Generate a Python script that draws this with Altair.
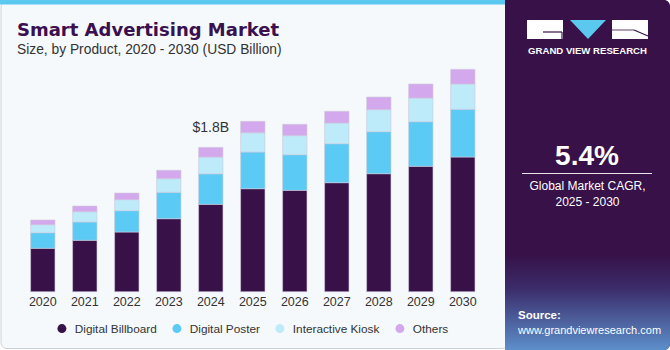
import altair as alt
import pandas as pd

years = [str(y) for y in range(2020, 2031)]
products = ["Digital Billboard", "Digital Poster", "Interactive Kiosk", "Others"]
billboard = [0.541, 0.641, 0.744, 0.910, 1.089, 1.284, 1.264, 1.359, 1.471, 1.563, 1.679]
poster = [0.194, 0.228, 0.266, 0.329, 0.381, 0.457, 0.444, 0.486, 0.524, 0.556, 0.595]
kiosk = [0.100, 0.128, 0.137, 0.170, 0.208, 0.241, 0.237, 0.258, 0.274, 0.295, 0.315]
others = [0.059, 0.071, 0.083, 0.105, 0.121, 0.142, 0.142, 0.146, 0.158, 0.175, 0.183]
colors = ["#371148", "#5BCBF5", "#BDEBFA", "#D4A8EC"]
label_year = "2024"
label_text = "$1.8B"
title = "Smart Advertising Market"
subtitle = "Size, by Product, 2020 - 2030 (USD Billion)"
cagr = "5.4%"
cagr_label1 = "Global Market CAGR,"
cagr_label2 = "2025 - 2030"
FONT = "Liberation Sans"

series = [billboard, poster, kiosk, others]
rows = []
for i, (name, vals) in enumerate(zip(products, series)):
    for y, v in zip(years, vals):
        rows.append({"year": y, "product": name, "value": v, "order": i})
df = pd.DataFrame(rows)
totals = df.groupby("year", as_index=False)["value"].sum()
lab_df = totals[totals["year"] == label_year].assign(label=label_text)
years_df = pd.DataFrame({"year": years})

xscale = alt.Scale(domain=years, range=[21.8, 483.8], paddingInner=0.42, paddingOuter=0.21)
yscale = alt.Scale(domain=[0, 1.8], range=[291.7, 147.3], nice=False)

one = pd.DataFrame({"a": [0]})


def rect(x, x2, y, y2, **kw):
    return alt.Chart(one).mark_rect(**kw).encode(
        x=alt.value(x), x2=alt.value(x2), y=alt.value(y), y2=alt.value(y2))


def text(t, x, y, font=FONT, **kw):
    return alt.Chart(one).mark_text(text=t, font=font, **kw).encode(
        x=alt.value(x), y=alt.value(y))


def rule(x, x2, y, y2, **kw):
    return alt.Chart(one).mark_rule(**kw).encode(
        x=alt.value(x), x2=alt.value(x2), y=alt.value(y), y2=alt.value(y2))


left_bg = rect(1, 508, 1, 348.5, fill="#F5F9FC", stroke="#CDD2D8", strokeWidth=1, cornerRadius=6)
top_strip = rect(0, 506, 0, 4.5, color="#5BC8F0")
right_bg = rect(505, 670, 0, 350, color="#371148", cornerRadiusTopRight=6, cornerRadiusBottomRight=6)
right_grad = rect(505, 670, 255, 350, cornerRadiusBottomRight=6, fill=alt.LinearGradient(
    gradient="linear", x1=0, x2=0, y1=0, y2=1,
    stops=[alt.GradientStop(offset=0, color="#371148"),
           alt.GradientStop(offset=0.35, color="#3B2C6A"),
           alt.GradientStop(offset=1, color="#5C8FCB")]))

bars = alt.Chart(df).mark_bar(stroke="#CFCADB", strokeWidth=0.6).encode(
    x=alt.X("year:N", scale=xscale, axis=None),
    y=alt.Y("value:Q", scale=yscale, axis=None, stack="zero"),
    color=alt.Color("product:N", scale=alt.Scale(domain=products, range=colors),
                    legend=alt.Legend(orient="none", legendX=56, legendY=322.5,
                                      direction="horizontal", title=None,
                                      symbolType="circle", symbolSize=80,
                                      symbolStrokeWidth=0, labelFontSize=11.8,
                                      labelFont=FONT, labelColor="#333333",
                                      columnPadding=14, labelOffset=7)),
    order=alt.Order("order:Q", sort="ascending"),
)

year_labels = alt.Chart(years_df).mark_text(font=FONT, fontSize=12.5, color="#333333",
                                            baseline="middle").encode(
    x=alt.X("year:N", scale=xscale, axis=None), y=alt.value(301.5), text="year:N")

value_label = alt.Chart(lab_df).mark_text(font=FONT, fontSize=14, color="#333333",
                                          baseline="middle", dy=-19).encode(
    x=alt.X("year:N", scale=xscale, axis=None),
    y=alt.Y("value:Q", scale=yscale, axis=None), text="label:N")

title_t = text(title, 17, 36, font="DejaVu Sans", fontSize=18, fontWeight="bold", color="#3A1050",
               align="left", baseline="alphabetic")
sub_t = text(subtitle, 17, 54, fontSize=13.8, color="#333333", align="left", baseline="alphabetic")

# logo
logo_g = rect(527, 563, 20, 39, color="#FFFFFF")
logo_g1 = rule(543, 562, 32, 32, color="#371148", strokeWidth=1.2)
logo_g2 = rule(562, 562, 32, 39, color="#371148", strokeWidth=1.2)
logo_v = alt.Chart(one).mark_point(shape="M-1,-0.53L1,-0.53L0,0.53Z", size=1296, filled=True,
                                   color="#5BC8F0", opacity=1, strokeWidth=0).encode(
    x=alt.value(588), y=alt.value(29.5))
logo_r = rect(612, 648, 20, 39, color="#FFFFFF")
logo_r1 = rule(634, 648, 30, 36, color="#371148", strokeWidth=1.2)
logo_r2 = rule(612, 634, 30, 30, color="#371148", strokeWidth=0.8)
logo_t = text("GRAND VIEW RESEARCH", 587.5, 51, fontSize=9.6, fontWeight="bold", color="#FFFFFF",
              align="center", baseline="middle")

cagr_t = text(cagr, 587, 165, fontSize=28, fontWeight="bold", color="#FFFFFF", align="center",
              baseline="alphabetic")
cagr_line = rule(522, 652, 173.5, 173.5, color="#E8E4EE", strokeWidth=1)
cagr_l1 = text(cagr_label1, 587.5, 186, fontSize=12, color="#FFFFFF", align="center", baseline="middle")
cagr_l2 = text(cagr_label2, 587.5, 201.5, fontSize=12, color="#FFFFFF", align="center", baseline="middle")
src1 = text("Source:", 518, 315.5, fontSize=11.5, fontWeight="bold", color="#FFFFFF", align="left",
            baseline="middle")
src2 = text("www.grandviewresearch.com", 518, 330.5, fontSize=11, color="#FFFFFF", align="left",
            baseline="middle")

chart = alt.layer(
    left_bg, top_strip, right_bg, right_grad,
    bars, year_labels, value_label, title_t, sub_t,
    logo_g, logo_g1, logo_g2, logo_v, logo_r, logo_r1, logo_r2, logo_t,
    cagr_t, cagr_line, cagr_l1, cagr_l2, src1, src2,
).properties(
    width=670, height=350, autosize=alt.AutoSizeParams(type="none"), padding=0,
    background="#FFFFFF",
).configure_view(stroke=None)

chart.save("out.html", embed_options={"renderer": "svg", "actions": False})
